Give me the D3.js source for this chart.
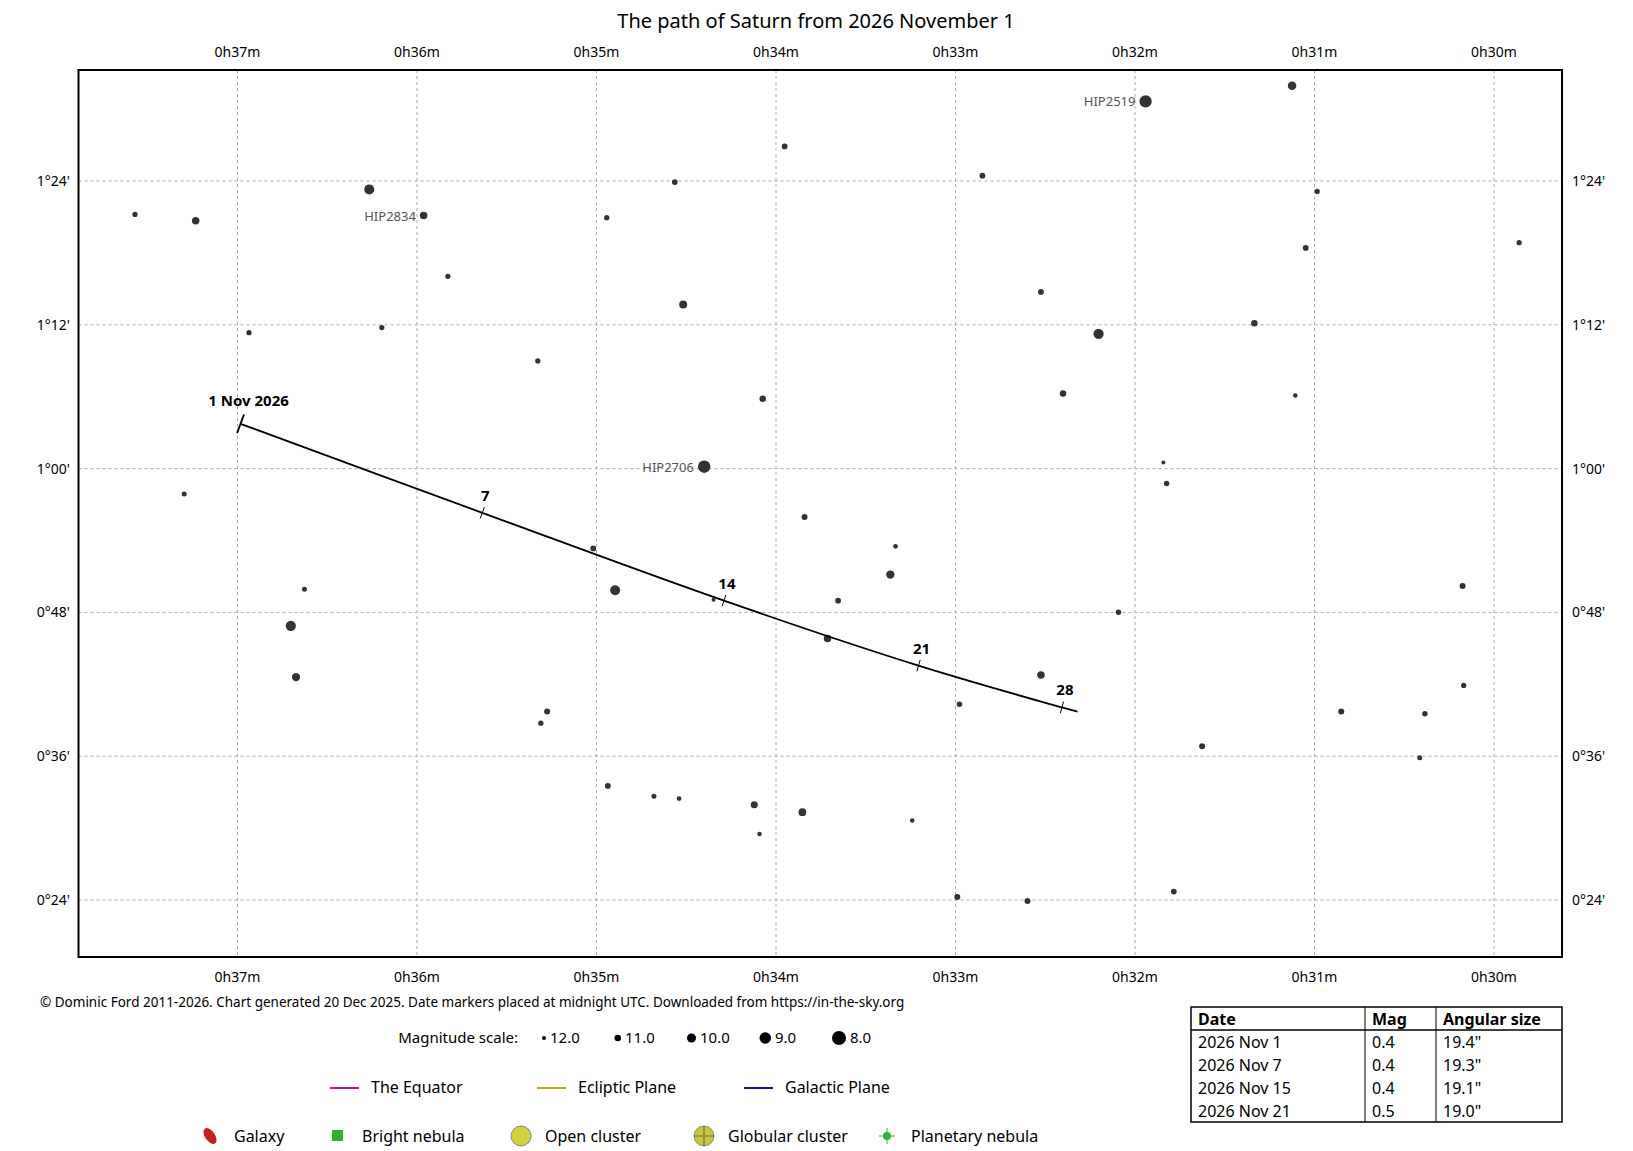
<!DOCTYPE html>
<html><head><meta charset="utf-8">
<script src="https://cdn.jsdelivr.net/npm/d3@7"></script>
<style>body{margin:0;background:#fff}svg{font-family:"Noto Sans",sans-serif}</style>
</head><body><svg id="c" width="1633" height="1151"></svg>
<script>
// RA in minutes of time (0h), Dec in arcminutes
const starRA  = [37.571,37.233,36.266,35.963,35.828,36.936,36.196,35.327,34.943,34.564,34.517,33.952,34.074,34.400,32.850,31.941,31.125,30.985,31.049,29.860,32.524,31.335,32.203,32.401,31.107,31.842,31.824,37.297,33.841,33.334,33.363,35.018,34.896,36.627,36.703,36.674,34.348,33.654,33.713,32.092,30.175,32.524,32.978,30.169,30.851,30.385,31.626,30.414,35.275,35.310,34.937,34.680,34.540,34.121,33.853,34.092,33.241,32.990,32.599,31.784];
const starDec = [81.21,80.68,83.30,81.12,76.05,71.34,71.77,68.98,80.94,83.91,73.69,86.88,65.83,60.16,84.44,90.64,91.95,83.13,78.41,78.85,74.74,72.12,71.25,66.27,66.10,60.51,58.76,57.89,55.96,53.52,51.16,53.34,49.85,49.94,46.88,42.60,49.06,48.98,45.83,48.02,50.20,42.77,40.33,41.90,39.72,39.54,36.84,35.88,39.72,38.76,33.52,32.65,32.47,31.95,31.33,29.50,30.64,24.26,23.91,24.70];
const starMag = [11.5,10.6,9.6,10.6,11.5,11.5,11.5,11.5,11.5,11.3,10.4,11.3,11.0,8.6,11.3,8.7,10.2,11.5,11.3,11.5,11.3,11.0,9.5,11.0,11.8,12.0,11.4,11.6,11.2,11.7,10.3,11.3,9.6,11.6,9.5,10.3,12.0,11.3,10.6,11.4,11.2,10.6,11.4,11.5,11.2,11.4,11.2,11.6,11.2,11.5,11.3,11.6,11.7,10.8,10.5,11.8,11.8,11.2,11.2,11.3];
const starName = {3:"HIP2834",13:"HIP2706",15:"HIP2519"};

const pathRA  = [36.983,35.636,34.290,33.206,32.407,32.320];
const pathDec = [63.74,56.31,48.98,43.56,40.07,39.72];
const pathLabel = ["1 Nov 2026","7","14","21","28",null];

const raTicks = [37,36,35,34,33,32,31,30];
const decTicks = [24,36,48,60,72,84];
const magScale = [12,11,10,9,8];
const tableRows = [["2026 Nov 1","0.4","19.4\""],["2026 Nov 7","0.4","19.3\""],["2026 Nov 15","0.4","19.1\""],["2026 Nov 21","0.5","19.0\""]];

const L=78.5,R=1562,T=70,B=957;
const x = d3.scaleLinear().domain([37,30]).range([237.5,1494]);
const y = d3.scaleLinear().domain([84,24]).range([181,900]);
const rad = m => 2 + (12-m)*1.25;
const svg = d3.select("#c");

svg.append("text").attr("x",816).attr("y",28).attr("text-anchor","middle").attr("font-size",20).text("The path of Saturn from 2026 November 1");

const g = svg.append("g");
raTicks.forEach(r=>{
  g.append("line").attr("x1",x(r)).attr("x2",x(r)).attr("y1",T).attr("y2",B).attr("stroke","#aaa").attr("stroke-dasharray","3,3");
  [52,977].forEach(yy=>g.append("text").attr("x",x(r)).attr("y",yy+5).attr("text-anchor","middle").attr("font-size",14).text(`0h${r}m`));
});
decTicks.forEach(d=>{
  g.append("line").attr("x1",L).attr("x2",R).attr("y1",y(d)).attr("y2",y(d)).attr("stroke","#aaa").attr("stroke-dasharray","3,3");
  const lab = `${Math.floor(d/60)}°${String(d%60).padStart(2,"0")}'`;
  g.append("text").attr("x",70).attr("y",y(d)+5).attr("text-anchor","end").attr("font-size",14).text(lab);
  g.append("text").attr("x",1572).attr("y",y(d)+5).attr("font-size",14).text(lab);
});
g.append("rect").attr("x",L).attr("y",T).attr("width",R-L).attr("height",B-T).attr("fill","none").attr("stroke","#000").attr("stroke-width",2);

starRA.forEach((r,i)=>{
  g.append("circle").attr("cx",x(r)).attr("cy",y(starDec[i])).attr("r",rad(starMag[i])).attr("fill","#333");
  if(starName[i]) g.append("text").attr("x",x(r)-rad(starMag[i])-4).attr("y",y(starDec[i])+5).attr("text-anchor","end").attr("font-size",13).attr("fill","#555").text(starName[i]);
});

const pts = pathRA.map((r,i)=>[x(r),y(pathDec[i])]);
g.append("path").attr("d",d3.line().curve(d3.curveCatmullRom)(pts)).attr("fill","none").attr("stroke","#000").attr("stroke-width",1.8);
pts.forEach((p,i)=>{
  if(!pathLabel[i]) return;
  const q = pts[i+1], a = Math.atan2(q[1]-p[1],q[0]-p[0]) + Math.PI/2, len = i===0?10:6;
  g.append("line").attr("x1",p[0]-Math.cos(a)*len).attr("y1",p[1]-Math.sin(a)*len).attr("x2",p[0]+Math.cos(a)*len).attr("y2",p[1]+Math.sin(a)*len).attr("stroke","#000").attr("stroke-width",i===0?1.8:1);
  g.append("text").attr("x",p[0]+(i===0?8:3)).attr("y",p[1]-(i===0?18:12)).attr("text-anchor","middle").attr("font-size",15).attr("font-weight","bold").text(pathLabel[i]);
});

svg.append("text").attr("x",40).attr("y",1007).attr("font-size",13.5).text("© Dominic Ford 2011-2026. Chart generated 20 Dec 2025. Date markers placed at midnight UTC. Downloaded from https://in-the-sky.org");

// magnitude scale
svg.append("text").attr("x",518).attr("y",1043).attr("text-anchor","end").attr("font-size",15).text("Magnitude scale:");
const mx = d3.scalePoint().domain(magScale).range([544,839]);
magScale.forEach(m=>{
  svg.append("circle").attr("cx",mx(m)).attr("cy",1038).attr("r",rad(m)).attr("fill","#000");
  svg.append("text").attr("x",mx(m)+rad(m)+4).attr("y",1043).attr("font-size",15).text(m.toFixed(1));
});
[["The Equator","#b5179e",330],["Ecliptic Plane","#d4a400",537],["Galactic Plane","#1010c0",744]].forEach(([t,c,xx])=>{
  svg.append("line").attr("x1",xx).attr("x2",xx+29).attr("y1",1088).attr("y2",1088).attr("stroke",c).attr("stroke-width",2);
  svg.append("text").attr("x",xx+41).attr("y",1093).attr("font-size",16).text(t);
});
const ly=1136;
svg.append("ellipse").attr("cx",210).attr("cy",ly).attr("rx",5).attr("ry",9).attr("transform",`rotate(-35,210,${ly})`).attr("fill","#c02020");
svg.append("text").attr("x",234).attr("y",ly+6).attr("font-size",16).text("Galaxy");
svg.append("rect").attr("x",332).attr("y",ly-6).attr("width",11).attr("height",11).attr("fill","#30b030");
svg.append("text").attr("x",362).attr("y",ly+6).attr("font-size",16).text("Bright nebula");
svg.append("circle").attr("cx",521).attr("cy",ly).attr("r",10).attr("fill","#d4d040").attr("stroke","#888");
svg.append("text").attr("x",545).attr("y",ly+6).attr("font-size",16).text("Open cluster");
svg.append("circle").attr("cx",704).attr("cy",ly).attr("r",10).attr("fill","#c8c840").attr("stroke","#888");
svg.append("line").attr("x1",694).attr("x2",714).attr("y1",ly).attr("y2",ly).attr("stroke","#666");
svg.append("line").attr("x1",704).attr("x2",704).attr("y1",ly-10).attr("y2",ly+10).attr("stroke","#666");
svg.append("text").attr("x",728).attr("y",ly+6).attr("font-size",16).text("Globular cluster");
svg.append("circle").attr("cx",887).attr("cy",ly).attr("r",4).attr("fill","#30b030");
svg.append("line").attr("x1",879).attr("x2",895).attr("y1",ly).attr("y2",ly).attr("stroke","#30b030");
svg.append("line").attr("x1",887).attr("x2",887).attr("y1",ly-8).attr("y2",ly+8).attr("stroke","#30b030");
svg.append("text").attr("x",911).attr("y",ly+6).attr("font-size",16).text("Planetary nebula");

// table
const tx=[1191,1365,1436], tr=1562, tt=1007, rh=23;
const tb = svg.append("g").attr("font-size",16);
tb.append("rect").attr("x",tx[0]).attr("y",tt).attr("width",tr-tx[0]).attr("height",rh*5).attr("fill","none").attr("stroke","#000").attr("stroke-width",1.5);
tb.append("line").attr("x1",tx[0]).attr("x2",tr).attr("y1",tt+rh).attr("y2",tt+rh).attr("stroke","#000").attr("stroke-width",1.5);
tx.slice(1).forEach(c=>tb.append("line").attr("x1",c).attr("x2",c).attr("y1",tt).attr("y2",tt+rh*5).attr("stroke","#000"));
["Date","Mag","Angular size"].forEach((h,j)=>tb.append("text").attr("x",tx[j]+7).attr("y",tt+18).attr("font-weight","bold").text(h));
tableRows.forEach((row,i)=>row.forEach((v,j)=>tb.append("text").attr("x",tx[j]+7).attr("y",tt+rh*(i+1)+18).text(v)));
</script></body></html>
